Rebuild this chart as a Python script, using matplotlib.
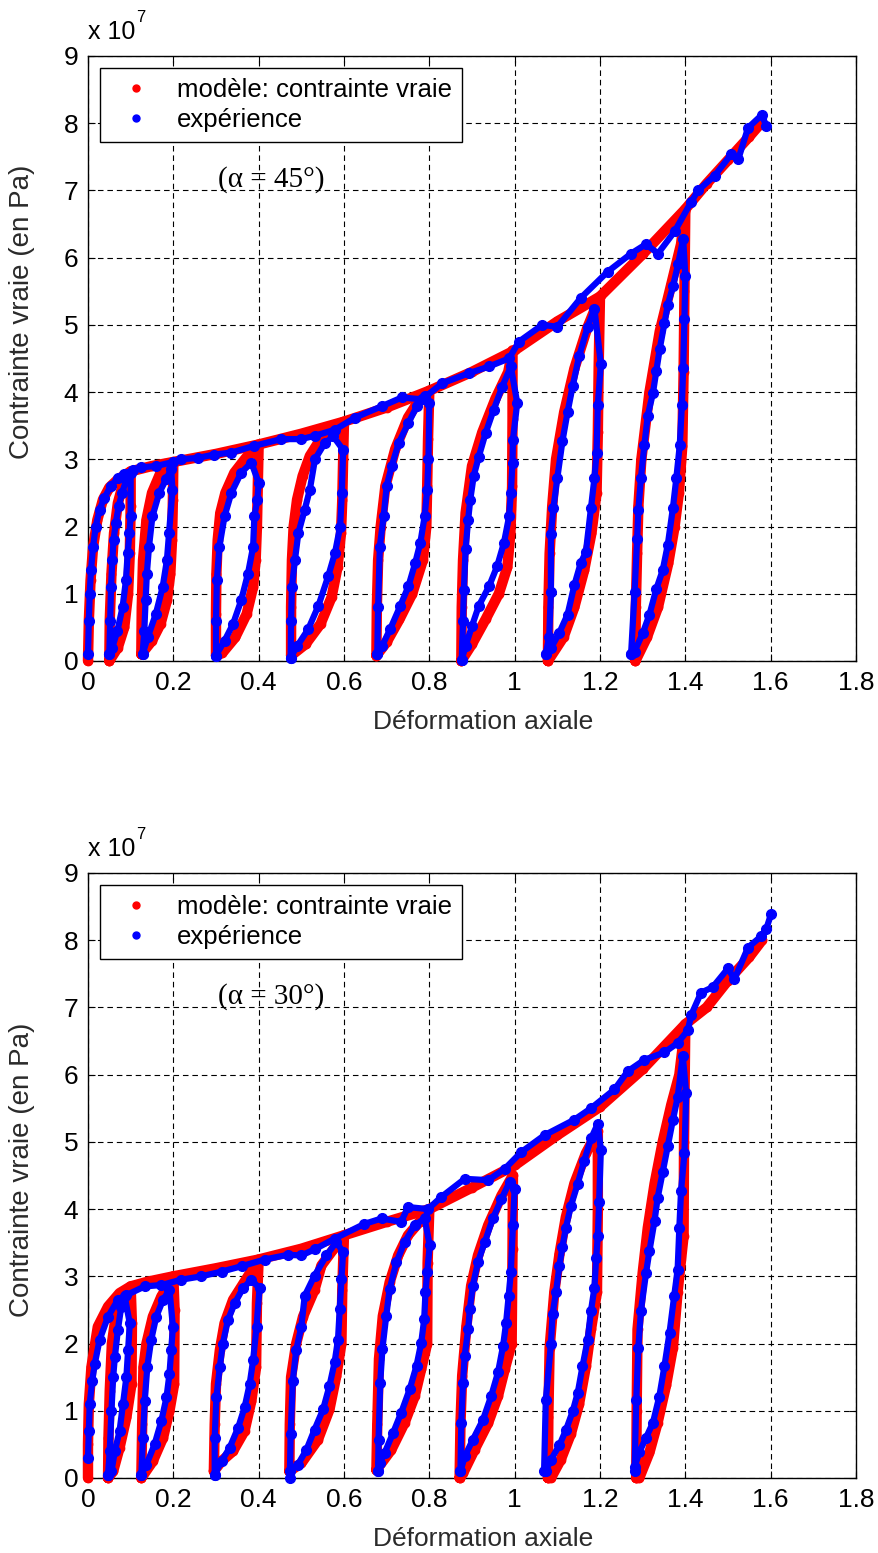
import numpy as np
import matplotlib
matplotlib.use('Agg')
import matplotlib.pyplot as plt
from matplotlib.lines import Line2D

# courbes (deformation, contrainte en 1e7 Pa)
# ---- alpha = 45 deg : modele ----
m45_env = [(0, 0), (0.002, 0.6), (0.006, 1.2), (0.012, 1.7), (0.022, 2.1), (0.035, 2.4), (0.05, 2.58),
           (0.07, 2.7), (0.1, 2.82), (0.15, 2.9), (0.2, 2.96), (0.3, 3.08), (0.4, 3.22), (0.5, 3.38),
           (0.6, 3.56), (0.7, 3.77), (0.8, 4.02), (0.9, 4.3), (1.0, 4.62), (1.1, 5.05), (1.2, 5.42),
           (1.3, 6.05), (1.4, 6.72), (1.45, 7.1), (1.5, 7.45), (1.55, 7.8), (1.58, 8.02)]
m45_loops = [
    [(0.05, 0), (0.051, 0.6), (0.055, 1.3), (0.061, 1.9), (0.07, 2.35), (0.083, 2.65), (0.1, 2.82),
     (0.1, 2.3), (0.098, 1.6), (0.094, 1.0), (0.085, 0.5), (0.07, 0.2), (0.05, 0)],
    [(0.125, 0.1), (0.126, 0.8), (0.129, 1.5), (0.137, 2.1), (0.15, 2.5), (0.17, 2.8), (0.2, 2.96),
     (0.199, 2.4), (0.197, 1.8), (0.193, 1.3), (0.185, 0.9), (0.17, 0.55), (0.15, 0.3), (0.125, 0.1)],
    [(0.3, 0.08), (0.3, 0.7), (0.301, 1.3), (0.304, 1.8), (0.31, 2.2), (0.322, 2.5), (0.343, 2.8),
     (0.37, 3.02), (0.4, 3.22), (0.398, 2.6), (0.396, 2.0), (0.393, 1.5), (0.387, 1.1), (0.372, 0.7),
     (0.345, 0.35), (0.315, 0.12), (0.3, 0.08)],
    [(0.476, 0.08), (0.476, 0.8), (0.478, 1.5), (0.482, 2.0), (0.49, 2.4), (0.503, 2.75), (0.52, 3.05),
     (0.545, 3.3), (0.575, 3.47), (0.6, 3.56), (0.598, 3.0), (0.596, 2.4), (0.593, 1.9), (0.585, 1.4),
     (0.571, 0.95), (0.545, 0.55), (0.51, 0.25), (0.476, 0.08)],
    [(0.676, 0.08), (0.677, 0.8), (0.68, 1.5), (0.686, 2.0), (0.697, 2.6), (0.72, 3.15), (0.75, 3.62),
     (0.78, 3.92), (0.8, 4.02), (0.797, 3.3), (0.795, 2.6), (0.793, 2.0), (0.785, 1.5), (0.76, 1.0),
     (0.73, 0.62), (0.7, 0.28), (0.676, 0.08)],
    [(0.875, 0), (0.876, 0.8), (0.879, 1.5), (0.885, 2.2), (0.9, 2.9), (0.924, 3.4), (0.955, 3.9),
     (0.985, 4.3), (0.995, 4.62), (0.995, 3.6), (0.994, 2.6), (0.99, 1.9), (0.983, 1.4), (0.963, 1.0),
     (0.932, 0.62), (0.9, 0.25), (0.875, 0)],
    [(1.078, 0), (1.079, 0.8), (1.082, 1.6), (1.088, 2.3), (1.097, 3.0), (1.116, 3.7), (1.14, 4.35),
     (1.17, 4.95), (1.2, 5.42), (1.197, 4.4), (1.195, 3.4), (1.192, 2.5), (1.18, 1.9), (1.163, 1.35),
     (1.14, 0.8), (1.115, 0.36), (1.078, 0)],
    [(1.283, 0), (1.284, 0.8), (1.287, 1.6), (1.29, 2.3), (1.297, 3.0), (1.316, 4.0), (1.34, 4.9),
     (1.367, 5.6), (1.39, 6.2), (1.4, 6.72), (1.398, 5.5), (1.396, 4.3), (1.393, 3.2), (1.385, 2.5),
     (1.375, 2.0), (1.36, 1.45), (1.336, 0.8), (1.31, 0.35), (1.283, 0)],
]

# ---- alpha = 45 deg : experience ----
e45_env = [(0, 0.1), (0.002, 0.6), (0.004, 1.0), (0.007, 1.35), (0.012, 1.7), (0.018, 2.0), (0.027, 2.25),
           (0.038, 2.42), (0.053, 2.6), (0.07, 2.72), (0.085, 2.78), (0.105, 2.84), (0.124, 2.88),
           (0.16, 2.9), (0.2, 2.96), (0.218, 3.0), (0.257, 3.02), (0.296, 3.07), (0.336, 3.1), (0.39, 3.2),
           (0.453, 3.3), (0.5, 3.3), (0.532, 3.35), (0.579, 3.44), (0.626, 3.62), (0.689, 3.79),
           (0.736, 3.92), (0.783, 3.89), (0.83, 4.13), (0.893, 4.28), (0.94, 4.38), (0.987, 4.5),
           (1.01, 4.75), (1.065, 5.0), (1.1, 4.97), (1.155, 5.4), (1.218, 5.79), (1.273, 6.06),
           (1.308, 6.2), (1.336, 6.06), (1.375, 6.39), (1.414, 6.83), (1.43, 7.0), (1.469, 7.22),
           (1.508, 7.54), (1.524, 7.46), (1.547, 7.93), (1.579, 8.12), (1.59, 7.96)]
e45_loops = [
    [(0.05, 0.1), (0.052, 0.6), (0.054, 1.1), (0.057, 1.5), (0.06, 1.8), (0.065, 2.05), (0.072, 2.3),
     (0.08, 2.5), (0.09, 2.7), (0.1, 2.8), (0.1, 2.15), (0.097, 1.9), (0.093, 1.6), (0.089, 1.2),
     (0.081, 0.8), (0.069, 0.45), (0.057, 0.2), (0.05, 0.1)],
    [(0.128, 0.1), (0.132, 0.45), (0.135, 0.9), (0.138, 1.3), (0.143, 1.7), (0.151, 2.15), (0.167, 2.5),
     (0.183, 2.7), (0.195, 2.85), (0.198, 2.55), (0.19, 1.9), (0.185, 1.5), (0.175, 1.1), (0.159, 0.7),
     (0.14, 0.35), (0.128, 0.1)],
    [(0.3, 0.08), (0.3, 0.6), (0.302, 1.2), (0.308, 1.7), (0.32, 2.15), (0.336, 2.5), (0.359, 2.8),
     (0.383, 2.95), (0.4, 2.65), (0.397, 2.4), (0.39, 2.15), (0.387, 1.7), (0.375, 1.3), (0.359, 0.9),
     (0.34, 0.55), (0.32, 0.3), (0.3, 0.08)],
    [(0.475, 0.05), (0.476, 0.6), (0.478, 1.1), (0.485, 1.5), (0.493, 1.9), (0.508, 2.25), (0.52, 2.55),
     (0.532, 3.0), (0.555, 3.24), (0.575, 3.34), (0.598, 3.14), (0.595, 2.5), (0.591, 2.0),
     (0.579, 1.61), (0.563, 1.26), (0.54, 0.82), (0.516, 0.47), (0.49, 0.22), (0.475, 0.05)],
    [(0.678, 0.1), (0.68, 0.8), (0.684, 1.7), (0.693, 2.15), (0.7, 2.6), (0.712, 2.9), (0.728, 3.24),
     (0.751, 3.54), (0.771, 3.79), (0.79, 3.94), (0.8, 3.84), (0.798, 3.0), (0.795, 2.55), (0.789, 2.15),
     (0.779, 1.76), (0.767, 1.46), (0.751, 1.11), (0.732, 0.82), (0.708, 0.47), (0.689, 0.22),
     (0.678, 0.1)],
    [(0.876, 0.02), (0.879, 0.6), (0.881, 1.06), (0.885, 1.66), (0.891, 2.1), (0.896, 2.4), (0.904, 2.75),
     (0.916, 3.04), (0.932, 3.39), (0.951, 3.74), (0.971, 4.08), (0.991, 4.38), (1.006, 3.84),
     (0.996, 3.29), (0.995, 2.95), (0.991, 2.5), (0.987, 2.15), (0.975, 1.76), (0.959, 1.41),
     (0.94, 1.11), (0.916, 0.82), (0.9, 0.52), (0.885, 0.22), (0.876, 0.02)],
    [(1.073, 0.11), (1.081, 0.36), (1.085, 1.02), (1.085, 1.89), (1.091, 2.28), (1.1, 2.72), (1.112, 3.27),
     (1.124, 3.7), (1.136, 4.09), (1.151, 4.53), (1.171, 4.97), (1.187, 5.24), (1.202, 4.42),
     (1.195, 3.81), (1.192, 3.1), (1.187, 2.72), (1.179, 2.28), (1.167, 1.62), (1.155, 1.46),
     (1.14, 1.13), (1.124, 0.69), (1.104, 0.41), (1.085, 0.19), (1.073, 0.11)],
    [(1.273, 0.11), (1.281, 1.02), (1.287, 1.81), (1.29, 2.25), (1.296, 2.72), (1.304, 3.21), (1.312, 3.65),
     (1.324, 3.98), (1.332, 4.31), (1.34, 4.64), (1.351, 5.02), (1.359, 5.3), (1.371, 5.57), (1.383, 5.9),
     (1.395, 6.28), (1.4, 5.73), (1.398, 5.08), (1.395, 4.36), (1.392, 3.81), (1.387, 3.21),
     (1.379, 2.72), (1.371, 2.28), (1.359, 1.73), (1.347, 1.35), (1.332, 1.07), (1.316, 0.69),
     (1.3, 0.41), (1.281, 0.14), (1.273, 0.11)],
]

# ---- alpha = 30 deg : modele ----
m30_env = [(0, 0), (0.0, 0.5), (0.002, 1.1), (0.008, 1.65), (0.023, 2.25), (0.047, 2.55), (0.074, 2.75),
           (0.1, 2.85), (0.14, 2.92), (0.2, 3.0), (0.3, 3.12), (0.4, 3.25), (0.5, 3.41), (0.6, 3.61),
           (0.7, 3.81), (0.8, 4.0), (0.9, 4.32), (1.0, 4.65), (1.1, 5.1), (1.2, 5.52), (1.3, 6.08),
           (1.4, 6.75), (1.45, 7.0), (1.5, 7.4), (1.55, 7.75), (1.58, 8.0)]
m30_loops = [
    [(0.047, 0), (0.048, 0.6), (0.051, 1.3), (0.056, 2.0), (0.066, 2.45), (0.078, 2.7), (0.1, 2.85),
     (0.103, 2.3), (0.102, 1.4), (0.09, 0.9), (0.074, 0.45), (0.059, 0.1), (0.047, 0)],
    [(0.125, 0), (0.127, 0.8), (0.13, 1.65), (0.137, 2.0), (0.152, 2.4), (0.172, 2.7), (0.2, 3.0),
     (0.203, 2.5), (0.202, 1.4), (0.191, 1.0), (0.176, 0.6), (0.152, 0.25), (0.125, 0)],
    [(0.295, 0.1), (0.297, 0.8), (0.3, 1.4), (0.309, 1.9), (0.32, 2.3), (0.34, 2.65), (0.367, 2.92),
     (0.4, 3.25), (0.396, 2.6), (0.394, 1.65), (0.383, 1.15), (0.367, 0.7), (0.34, 0.4), (0.313, 0.25),
     (0.295, 0.1)],
    [(0.472, 0.1), (0.473, 0.8), (0.476, 1.5), (0.488, 2.0), (0.504, 2.4), (0.531, 2.8), (0.547, 3.16),
     (0.575, 3.4), (0.6, 3.61), (0.596, 2.8), (0.594, 2.0), (0.582, 1.52), (0.566, 1.02), (0.539, 0.57),
     (0.5, 0.22), (0.472, 0.1)],
    [(0.676, 0.12), (0.678, 0.8), (0.682, 1.77), (0.691, 2.41), (0.707, 2.91), (0.727, 3.31), (0.75, 3.61),
     (0.777, 3.81), (0.8, 4.0), (0.796, 3.2), (0.795, 2.0), (0.781, 1.62), (0.766, 1.22), (0.742, 0.82),
     (0.711, 0.42), (0.676, 0.12)],
    [(0.871, 0), (0.873, 0.8), (0.877, 1.52), (0.887, 2.26), (0.898, 2.86), (0.914, 3.31), (0.938, 3.76),
     (0.969, 4.2), (0.996, 4.5), (0.995, 3.4), (0.993, 2.0), (0.977, 1.62), (0.961, 1.22), (0.938, 0.82),
     (0.906, 0.42), (0.879, 0.07), (0.871, 0)],
    [(1.078, 0), (1.079, 0.9), (1.082, 1.94), (1.093, 2.77), (1.105, 3.33), (1.12, 3.88), (1.14, 4.38),
     (1.167, 4.83), (1.195, 5.16), (1.195, 4.0), (1.193, 2.77), (1.179, 2.21), (1.167, 1.66), (1.151, 1.1),
     (1.132, 0.66), (1.108, 0.27), (1.085, 0), (1.078, 0)],
    [(1.285, 0), (1.286, 1.0), (1.288, 2.21), (1.3, 3.05), (1.312, 3.72), (1.328, 4.38), (1.347, 5.0),
     (1.367, 5.55), (1.386, 6.0), (1.4, 6.75), (1.397, 5.0), (1.396, 3.6), (1.382, 2.77), (1.371, 1.94),
     (1.355, 1.38), (1.335, 0.82), (1.316, 0.38), (1.292, 0), (1.285, 0)],
]

# ---- alpha = 30 deg : experience ----
e30_env = [(0, 0.3), (0.002, 0.7), (0.004, 1.1), (0.01, 1.45), (0.016, 1.7), (0.027, 2.05), (0.047, 2.4),
           (0.07, 2.65), (0.09, 2.72), (0.133, 2.85), (0.172, 2.87), (0.219, 2.95), (0.266, 3.0),
           (0.313, 3.07), (0.36, 3.15), (0.414, 3.25), (0.469, 3.32), (0.5, 3.31), (0.531, 3.4),
           (0.578, 3.56), (0.648, 3.78), (0.688, 3.86), (0.734, 3.81), (0.75, 4.03), (0.797, 4.0),
           (0.828, 4.18), (0.883, 4.45), (0.938, 4.43), (0.977, 4.6), (1.016, 4.85), (1.07, 5.1),
           (1.14, 5.33), (1.179, 5.5), (1.234, 5.78), (1.265, 6.05), (1.304, 6.22), (1.351, 6.33),
           (1.382, 6.47), (1.406, 6.66), (1.414, 6.89), (1.437, 7.22), (1.464, 7.3), (1.5, 7.58),
           (1.515, 7.42), (1.547, 7.89), (1.578, 8.06), (1.59, 8.17), (1.601, 8.39)]
e30_loops = [
    [(0.047, 0.05), (0.051, 0.4), (0.055, 1.0), (0.059, 1.5), (0.063, 1.8), (0.07, 2.2), (0.078, 2.55),
     (0.086, 2.7), (0.098, 2.3), (0.094, 1.9), (0.09, 1.5), (0.082, 1.1), (0.074, 0.7), (0.063, 0.4),
     (0.055, 0.1), (0.047, 0.05)],
    [(0.125, 0.05), (0.129, 0.6), (0.133, 1.15), (0.139, 1.65), (0.148, 2.05), (0.16, 2.4), (0.176, 2.65),
     (0.191, 2.8), (0.199, 2.25), (0.195, 1.9), (0.191, 1.55), (0.184, 1.2), (0.172, 0.85), (0.156, 0.5),
     (0.137, 0.2), (0.125, 0.05)],
    [(0.297, 0.05), (0.297, 0.6), (0.301, 1.2), (0.309, 1.65), (0.316, 2.0), (0.328, 2.35), (0.344, 2.6),
     (0.363, 2.82), (0.383, 2.95), (0.402, 2.82), (0.395, 2.25), (0.387, 1.75), (0.379, 1.4),
     (0.367, 1.05), (0.352, 0.75), (0.332, 0.45), (0.313, 0.25), (0.297, 0.05)],
    [(0.473, 0.0), (0.475, 0.65), (0.48, 1.45), (0.488, 1.9), (0.5, 2.25), (0.508, 2.71), (0.531, 3.01),
     (0.559, 3.31), (0.582, 3.51), (0.598, 3.36), (0.594, 2.96), (0.59, 2.51), (0.586, 2.06),
     (0.578, 1.72), (0.566, 1.37), (0.551, 1.02), (0.531, 0.72), (0.512, 0.42), (0.492, 0.2),
     (0.473, 0.1)],
    [(0.68, 0.1), (0.681, 0.57), (0.685, 1.42), (0.69, 1.92), (0.699, 2.41), (0.707, 2.81), (0.723, 3.21),
     (0.742, 3.51), (0.766, 3.76), (0.789, 3.86), (0.801, 3.46), (0.795, 3.06), (0.791, 2.76),
     (0.788, 2.36), (0.781, 2.01), (0.77, 1.67), (0.754, 1.32), (0.734, 0.97), (0.715, 0.67),
     (0.695, 0.37), (0.684, 0.22), (0.68, 0.1)],
    [(0.873, 0.1), (0.875, 0.82), (0.879, 1.42), (0.883, 1.82), (0.891, 2.21), (0.895, 2.51), (0.902, 2.86),
     (0.914, 3.21), (0.93, 3.51), (0.949, 3.86), (0.969, 4.15), (0.988, 4.4), (1.0, 4.3), (0.996, 3.76),
     (0.991, 3.06), (0.986, 2.71), (0.98, 2.31), (0.973, 1.97), (0.961, 1.57), (0.945, 1.22),
     (0.926, 0.87), (0.902, 0.57), (0.883, 0.32), (0.873, 0.1)],
    [(1.069, 0.1), (1.073, 1.16), (1.085, 1.99), (1.089, 2.44), (1.097, 2.77), (1.105, 3.16), (1.112, 3.44),
     (1.12, 3.72), (1.132, 4.05), (1.148, 4.38), (1.163, 4.72), (1.179, 5.05), (1.195, 5.27),
     (1.202, 4.88), (1.198, 4.11), (1.195, 3.6), (1.191, 3.27), (1.187, 2.83), (1.179, 2.49),
     (1.171, 2.05), (1.159, 1.66), (1.148, 1.27), (1.136, 0.99), (1.12, 0.71), (1.105, 0.49),
     (1.085, 0.27), (1.073, 0.1)],
    [(1.281, 0.1), (1.285, 1.16), (1.29, 1.94), (1.296, 2.49), (1.308, 3.05), (1.316, 3.38), (1.328, 3.83),
     (1.335, 4.16), (1.347, 4.55), (1.359, 4.94), (1.371, 5.33), (1.382, 5.66), (1.394, 6.28),
     (1.402, 5.72), (1.398, 4.83), (1.39, 4.27), (1.386, 3.72), (1.382, 3.1), (1.374, 2.71),
     (1.363, 2.16), (1.351, 1.66), (1.339, 1.21), (1.324, 0.82), (1.308, 0.6), (1.292, 0.38),
     (1.281, 0.16)],
]

x_ticks = [0, 0.2, 0.4, 0.6, 0.8, 1, 1.2, 1.4, 1.6, 1.8]
x_ticklabels = ['0', '0.2', '0.4', '0.6', '0.8', '1', '1.2', '1.4', '1.6', '1.8']
y_ticks = [0, 1, 2, 3, 4, 5, 6, 7, 8, 9]

panels = [
    (m45_env, m45_loops, e45_env, e45_loops, '(\u03b1 = 45\u00b0)', 0.5744, 0.577),
    (m30_env, m30_loops, e30_env, e30_loops, '(\u03b1 = 30\u00b0)', 0.0483, 0.51),
]

plt.rcParams['font.family'] = ['Liberation Sans', 'DejaVu Sans']

fig = plt.figure(figsize=(8.79, 15.53), dpi=100)


def draw_red(ax, pts):
    p = np.array(pts)
    ax.plot(p[:, 0], p[:, 1], '-', color='#ff0000', lw=7.5, marker='o', ms=6,
            solid_capstyle='round', solid_joinstyle='round', clip_on=False, zorder=3)


def draw_blue(ax, pts):
    p = np.array(pts)
    ax.plot(p[:, 0], p[:, 1], '-', color='#0000ff', lw=4.5, marker='o', ms=7,
            solid_capstyle='round', solid_joinstyle='round', clip_on=False, zorder=4)


for m_env, m_loops, e_env, e_loops, tag, bottom, ylab_y in panels:
    ax = fig.add_axes([0.1001, bottom, 0.8737, 0.3896])
    draw_red(ax, m_env)
    for lp in m_loops:
        draw_red(ax, lp)
    draw_blue(ax, e_env)
    for lp in e_loops:
        draw_blue(ax, lp)

    ax.set_xlim(0, 1.8)
    ax.set_ylim(0, 9)
    ax.set_xticks(x_ticks)
    ax.set_xticklabels(x_ticklabels, fontsize=19)
    ax.set_yticks(y_ticks)
    ax.set_yticklabels([str(v) for v in y_ticks], fontsize=19)
    ax.tick_params(direction='in', length=5, width=0.8, top=True, right=True, pad=7)
    ax.grid(True, color='k', lw=0.8, linestyle=(0, (5, 3.5)))
    ax.set_axisbelow(True)
    for s in ax.spines.values():
        s.set_linewidth(1.0)

    ax.set_xlabel('D\u00e9formation axiale', fontsize=19, color='#2a2a2a')
    ax.xaxis.set_label_coords(0.514, -0.101)
    ax.xaxis.label.set_va('center')
    ax.set_ylabel('Contrainte vraie (en Pa)', fontsize=20, color='#2a2a2a')
    ax.yaxis.set_label_coords(-0.086, ylab_y)
    ax.yaxis.label.set_va('center')

    ax.text(0.0, 1.040, 'x 10', transform=ax.transAxes, fontsize=18, va='center', ha='left')
    ax.text(0.063, 1.064, '7', transform=ax.transAxes, fontsize=12, va='center', ha='left')

    ax.text(0.43, 7.16, tag, family=['Liberation Serif', 'DejaVu Serif'], fontsize=21,
            ha='center', va='center')

    handles = [Line2D([], [], ls='none', marker='o', color='#ff0000', ms=5),
               Line2D([], [], ls='none', marker='o', color='#0000ff', ms=5)]
    leg = ax.legend(handles, ['mod\u00e8le: contrainte vraie', 'exp\u00e9rience'],
                    loc='upper left', bbox_to_anchor=(0.0156, 0.980), borderaxespad=0,
                    fontsize=18.5, fancybox=False, framealpha=1, edgecolor='k',
                    labelspacing=0.22, handletextpad=0.6, borderpad=0.4)
    leg.get_frame().set_linewidth(1.0)

fig.savefig('out.png', dpi=100)
